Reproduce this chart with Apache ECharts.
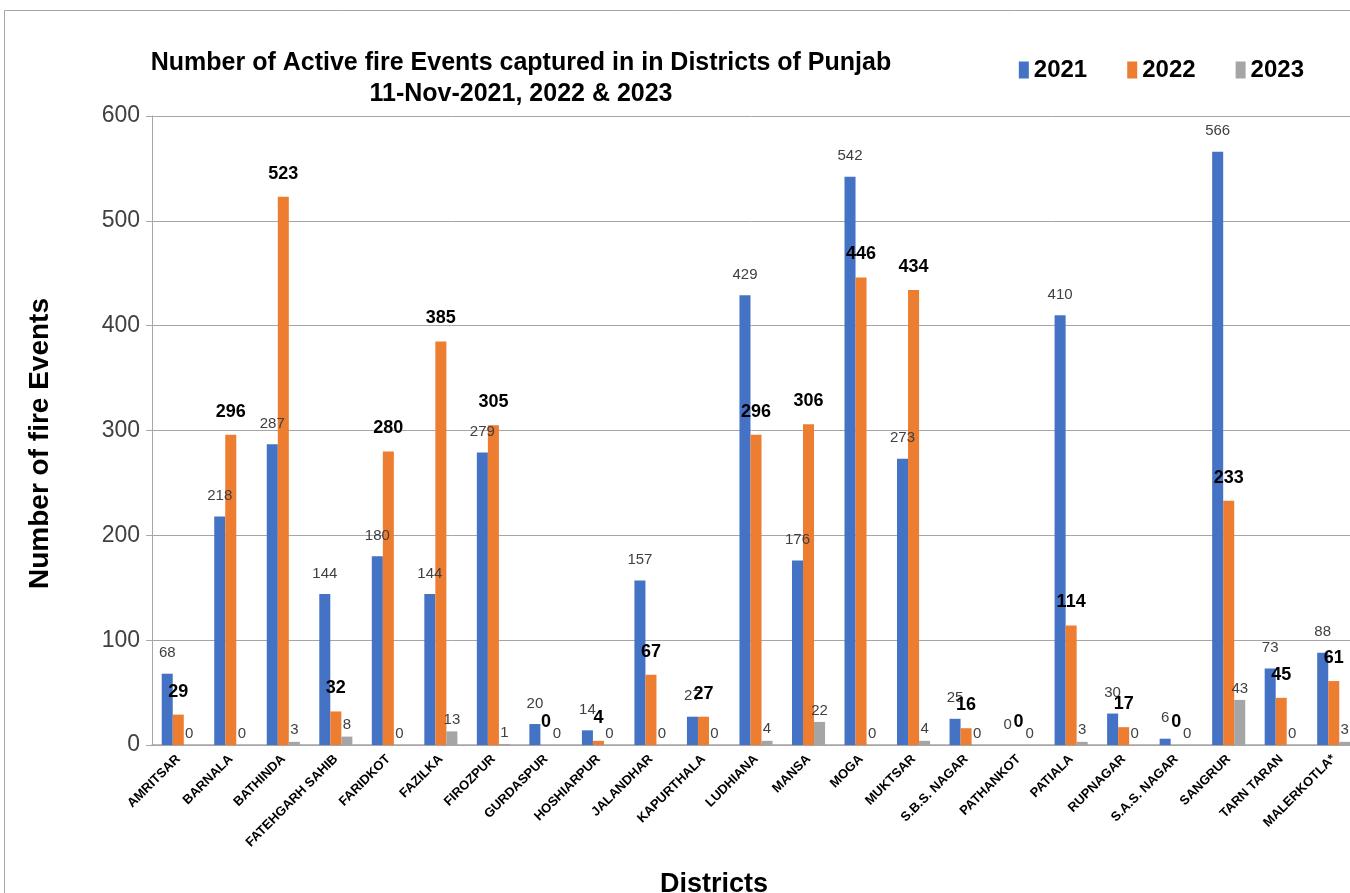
<!DOCTYPE html>
<html><head><meta charset="utf-8">
<script src="https://cdn.jsdelivr.net/npm/echarts@6/dist/echarts.min.js"></script>
<style>html,body{margin:0;padding:0;background:#fff}#c{width:1350px;height:893px}</style>
</head><body><div id="c"></div>
<script>
const districts = ['AMRITSAR','BARNALA','BATHINDA','FATEHGARH SAHIB','FARIDKOT','FAZILKA','FIROZPUR','GURDASPUR','HOSHIARPUR','JALANDHAR','KAPURTHALA','LUDHIANA','MANSA','MOGA','MUKTSAR','S.B.S. NAGAR','PATHANKOT','PATIALA','RUPNAGAR','S.A.S. NAGAR','SANGRUR','TARN TARAN','MALERKOTLA*'];
const y2021 = [68,218,287,144,180,144,279,20,14,157,27,429,176,542,273,25,0,410,30,6,566,73,88];
const y2022 = [29,296,523,32,280,385,305,0,4,67,27,296,306,446,434,16,0,114,17,0,233,45,61];
const y2023 = [0,0,3,8,0,13,1,0,0,0,0,4,22,0,4,0,0,3,0,0,43,0,3];
const yTicks = [0,100,200,300,400,500,600];

const font = 'Liberation Sans, Arial, sans-serif';
const chart = echarts.init(document.getElementById('c'));
chart.setOption({
  animation: false,
  textStyle: {fontFamily: font},
  graphic: [{type:'rect', shape:{x:4.5,y:10.5,width:1400,height:900}, style:{fill:'none', stroke:'#a6a6a6', lineWidth:1}}],
  title: {
    text: 'Number of Active fire Events captured in in Districts of Punjab\n11-Nov-2021, 2022 & 2023',
    left: 516, top: 43, textAlign: 'center',
    textStyle: {fontFamily: font, fontSize: 25, fontWeight: 'bold', color: '#000', lineHeight: 31, align:'center'}
  },
  legend: {
    data: ['2021','2022','2023'], right: 41, top: 53,
    itemWidth: 10, itemHeight: 17, itemGap: 40, icon: 'rect',
    textStyle: {fontFamily: font, fontSize: 24, fontWeight: 'bold', color: '#000'}
  },
  grid: {left: 152, right: -10, top: 116, bottom: 148, containLabel: false, outerBoundsMode: 'none'},
  xAxis: {
    type: 'category', data: districts,
    name: 'Districts', nameLocation: 'middle', nameGap: 126,
    nameTextStyle: {fontFamily: font, fontSize: 27, fontWeight: 'bold', color: '#000', padding:[0,84,0,0]},
    axisLine: {lineStyle: {color: '#a6a6a6', width: 1.5}},
    axisTick: {show: false},
    axisLabel: {rotate: 45, interval: 0, fontSize: 13, fontWeight: 'bold', color: '#000', margin: 12}
  },
  yAxis: {
    type: 'value', min: 0, max: 600, interval: 100,
    name: 'Number of fire Events', nameLocation: 'middle', nameGap: 98, nameRotate: 90,
    nameTextStyle: {fontFamily: font, fontSize: 28, fontWeight: 'bold', color: '#000', padding:[0,26,0,0]},
    axisLine: {show: true, lineStyle: {color: '#a6a6a6'}},
    axisTick: {show: true, length: 6, lineStyle: {color: '#a6a6a6'}},
    splitLine: {lineStyle: {color: '#a6a6a6', width: 1}},
    axisLabel: {fontSize: 23, color: '#404040', margin: 12,
      formatter: v => yTicks.includes(v) ? String(v) : ''}
  },
  series: [
    {name: '2021', type: 'bar', data: y2021, barGap: '0%', barCategoryGap: '37%',
     itemStyle: {color: '#4472c4'},
     label: {show: true, position: 'top', distance: 13, fontSize: 15, color: '#404040'}},
    {name: '2022', type: 'bar', data: y2022,
     itemStyle: {color: '#ed7d31'},
     label: {show: true, position: 'top', distance: 14, fontSize: 18, fontWeight: 'bold', color: '#000'}},
    {name: '2023', type: 'bar', data: y2023,
     itemStyle: {color: '#a5a5a5'},
     label: {show: true, position: 'top', distance: 4, fontSize: 15, color: '#404040'}}
  ]
});
</script></body></html>
